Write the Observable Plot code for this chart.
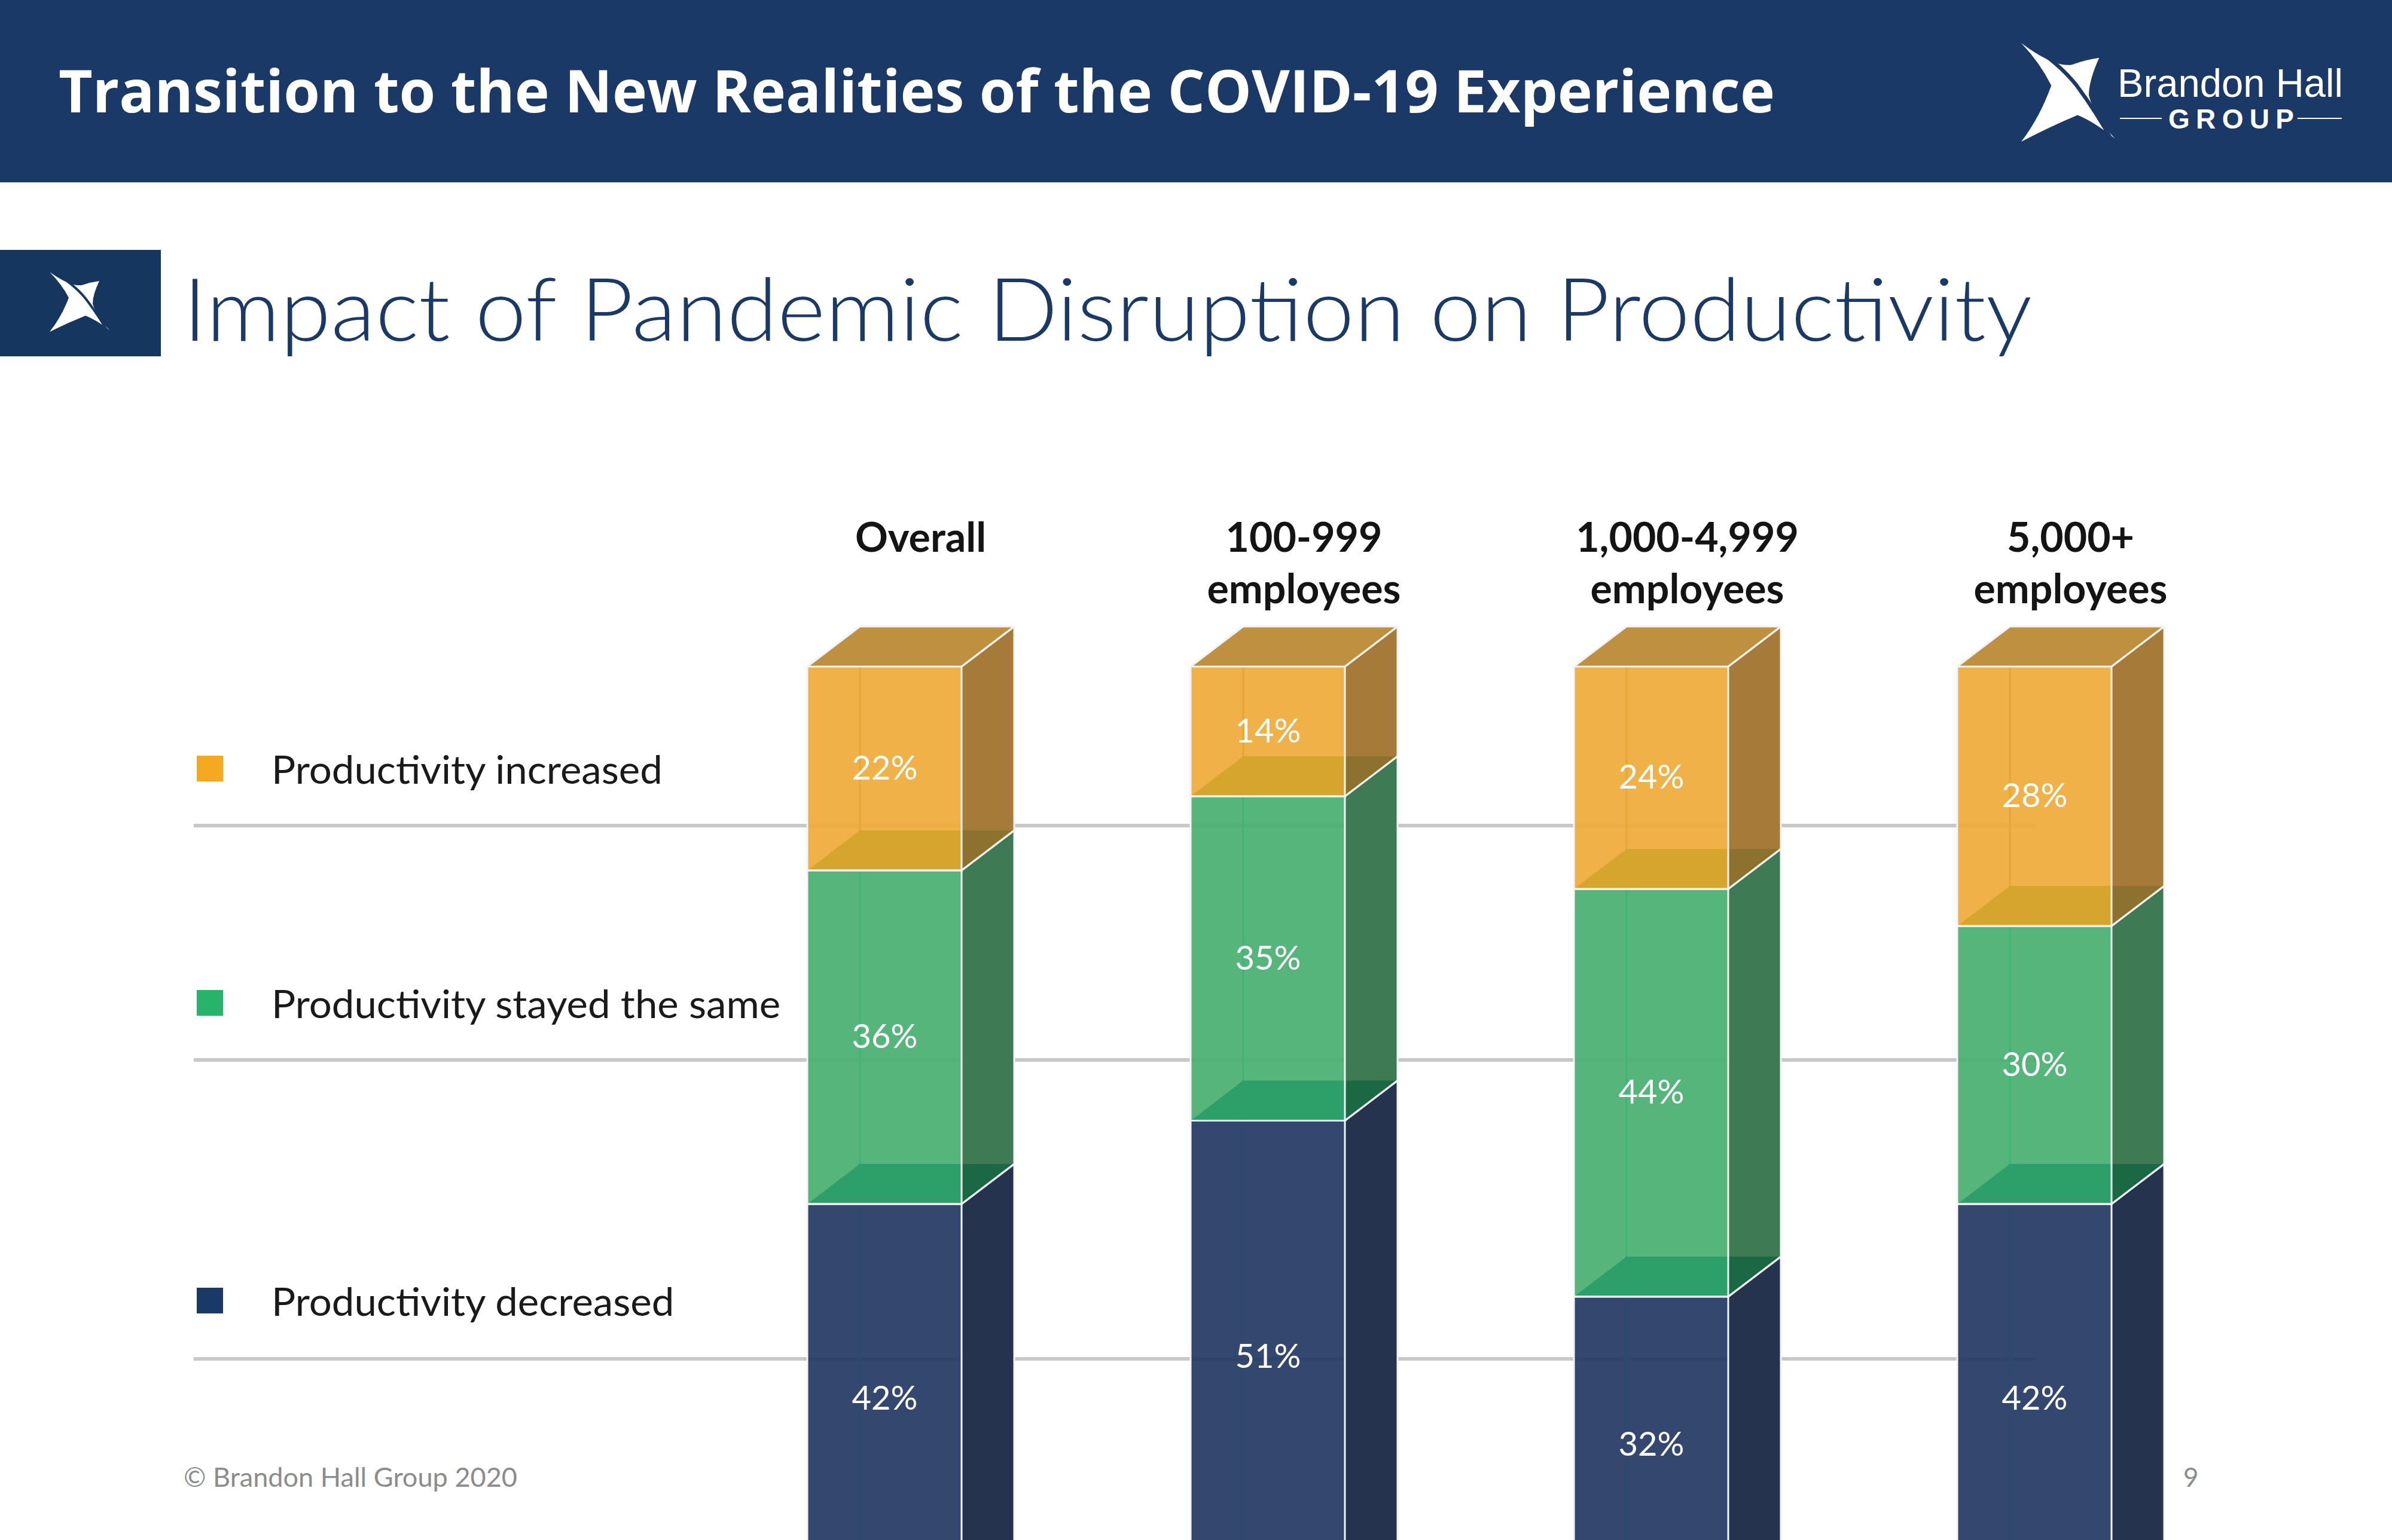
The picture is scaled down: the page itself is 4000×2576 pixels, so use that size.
<!DOCTYPE html>
<html>
<head>
<meta charset="utf-8">
<script src="https://cdn.jsdelivr.net/npm/d3@7"></script>
<script src="https://cdn.jsdelivr.net/npm/@observablehq/plot@0.6"></script>
<style>
  html, body { margin: 0; padding: 0; background: #fff; overflow: hidden; }
  #lamina { position: relative; width: 4000px; height: 2576px; overflow: hidden; background: #fff; }
  #fondo { position: absolute; left: 0; top: 0; }
  #grafico { position: absolute; left: 0; top: 800px; }
</style>
</head>
<body>
<div id="lamina">
  <svg id="fondo" width="4000" height="2576"></svg>
  <div id="grafico"></div>
</div>
<script>
// datos
const GRUPOS = ["Overall", "100-999\nemployees", "1,000-4,999\nemployees", "5,000+\nemployees"];
const SERIES = ["Productivity decreased", "Productivity stayed the same", "Productivity increased"];
const DISMINUYO = [42, 51, 32, 42];
const IGUAL     = [36, 35, 44, 30];
const AUMENTO   = [22, 14, 24, 28];

const COLORES = {
  "Productivity decreased":       { frente: "#253A64", lado: "#25334F", suelo: "#2A3F66", sueloLado: "#1E2A44", arista: "#2A4A6F", tapa: "#2B3A5C", leyenda: "#1B3966" },
  "Productivity stayed the same": { frente: "#49AF71", lado: "#3E7B54", suelo: "#2CA068", sueloLado: "#1B6845", arista: "#3DB573", tapa: "#2E8A57", leyenda: "#27B36A" },
  "Productivity increased":       { frente: "#EFAB3A", lado: "#A67B3A", suelo: "#D6A52E", sueloLado: "#8C722E", arista: "#E5A736", tapa: "#BF9040", leyenda: "#F5A920" },
};

const AZUL = "#1B3966";
const DX = 88, DY = 67; // profundidad de la caja en px

// tabla apilada
const valores = [DISMINUYO, IGUAL, AUMENTO];
const filas = [];
GRUPOS.forEach((g, i) => {
  let base = 0;
  SERIES.forEach((s, j) => {
    const v = valores[j][i];
    filas.push({ grupo: g, serie: s, valor: v, y1: base, y2: base + v, arriba: j === SERIES.length - 1 });
    base += v;
  });
});

// caras laterales, tapa y suelo de cada caja
function caja3d(datos) {
  return function (index, scales) {
    const x = scales.x, y = scales.y;
    const bw = x.bandwidth();
    const g = d3.create("svg:g").attr("aria-label", "caras 3d");
    const pts = (p) => p.map((q) => q.join(",")).join(" ");
    const pol = (p, fill) => g.append("polygon").attr("points", pts(p)).attr("fill", fill);
    for (const d of datos) {
      const c = COLORES[d.serie];
      const x0 = x(d.grupo), x1 = x0 + bw;
      const yt = y(d.y2), yb = y(d.y1);
      pol([[x1, yt], [x1 + DX, yt - DY], [x1 + DX, yb - DY], [x1, yb]], c.lado);
      g.append("line")
        .attr("x1", x0 + DX).attr("x2", x0 + DX)
        .attr("y1", yt - DY).attr("y2", yb - DY)
        .attr("stroke", c.arista).attr("stroke-width", 3);
      pol([[x0, yb], [x1, yb], [x1, yb - DY], [x0 + DX, yb - DY]], c.suelo);
      pol([[x1, yb - DY], [x1 + DX, yb - DY], [x1, yb]], c.sueloLado);
      if (d.arriba) pol([[x0, yt], [x1, yt], [x1 + DX, yt - DY], [x0 + DX, yt - DY]], c.tapa);
    }
    // aristas blancas
    for (const d of datos) {
      const x0 = x(d.grupo), x1 = x0 + bw;
      const yt = y(d.y2), yb = y(d.y1);
      g.append("polyline")
        .attr("points", pts([[x1, yt], [x1 + DX, yt - DY], [x1 + DX, yb - DY], [x1, yb]]))
        .attr("fill", "none").attr("stroke", "#F4F4F4").attr("stroke-width", 3).attr("stroke-linejoin", "round");
      if (d.arriba) {
        g.append("polyline")
          .attr("points", pts([[x0, yt], [x0 + DX, yt - DY], [x1 + DX, yt - DY], [x1, yt]]))
          .attr("fill", "none").attr("stroke", "#F2F2F2").attr("stroke-width", 3).attr("stroke-linejoin", "round");
      }
    }
    return g.node();
  };
}

const grafico = Plot.plot({
  width: 4000, height: 1865,
  marginLeft: 1349, marginRight: 469, marginTop: 315, marginBottom: 0,
  style: { background: "transparent", overflow: "visible", fontFamily: "Lato, 'Open Sans', sans-serif" },
  x: { domain: GRUPOS, paddingInner: 0.598, paddingOuter: 0, axis: null },
  y: { domain: [0, 100], axis: null },
  color: { domain: SERIES, range: SERIES.map((s) => COLORES[s].frente) },
  marks: [
    Plot.barY(filas, { x: "grupo", y1: "y1", y2: "y2", fill: "serie", fillOpacity: 0.93 }),
    caja3d(filas),
    Plot.barY(filas, { x: "grupo", y1: "y1", y2: "y2", fill: "none", stroke: "#F4F4F4", strokeWidth: 3 }),
    Plot.text(filas, {
      x: "grupo", y: (d) => (d.y1 + d.y2) / 2, text: (d) => d.valor + "%",
      fill: "white", fontSize: 56,
    }),
    Plot.text(GRUPOS, {
      x: (d) => d, text: (d) => d, frameAnchor: "top", lineAnchor: "top",
      dy: -254, dx: 60, fontSize: 68, fontWeight: 700, fill: "#141414", lineHeight: 1.27,
    }),
  ],
});
document.getElementById("grafico").appendChild(grafico);

// lámina: cabecera, título, leyenda, pie
const fondo = d3.select("#fondo");
const ESTRELLA = "M0,0 Q35,25 54,22 Q68,17 83,15 Q72,38 72,53 Q78,75 100,97 Q78,80 60,73 Q30,85 0,100 Q20,75 32,43 Q20,20 0,0 Z";
function estrella(x, y, w, h, colorFondo) {
  const s = fondo.append("svg")
    .attr("x", x).attr("y", y).attr("width", w).attr("height", h)
    .attr("viewBox", "0 0 100 100").attr("preserveAspectRatio", "none").attr("overflow", "visible");
  s.append("path").attr("d", ESTRELLA).attr("fill", "white");
  s.append("path").attr("d", "M4,-2 Q40,20 59,43 Q80,70 98,101")
    .attr("fill", "none").attr("stroke", colorFondo).attr("stroke-width", 4);
}

fondo.append("rect").attr("width", 4000).attr("height", 305).attr("fill", AZUL);
fondo.append("text")
  .attr("x", 98).attr("y", 188)
  .attr("font-family", "'Open Sans', Lato, sans-serif").attr("font-weight", 700).attr("font-size", 98)
  .attr("fill", "white").attr("textLength", 2870).attr("lengthAdjust", "spacingAndGlyphs")
  .text("Transition to the New Realities of the COVID-19 Experience");

estrella(3380, 72, 157, 165, AZUL);
fondo.append("text")
  .attr("x", 3541).attr("y", 162)
  .attr("font-family", "'Liberation Sans', Arial, sans-serif").attr("font-size", 66)
  .attr("fill", "white").attr("textLength", 377).attr("lengthAdjust", "spacingAndGlyphs")
  .text("Brandon Hall");
fondo.append("text")
  .attr("x", 3626).attr("y", 215)
  .attr("font-family", "'Liberation Sans', Arial, sans-serif").attr("font-weight", 700).attr("font-size", 46)
  .attr("fill", "white").attr("textLength", 210).attr("lengthAdjust", "spacing")
  .text("GROUP");
fondo.append("line").attr("x1", 3545).attr("x2", 3615).attr("y1", 198).attr("y2", 198).attr("stroke", "white").attr("stroke-width", 2);
fondo.append("line").attr("x1", 3842).attr("x2", 3916).attr("y1", 198).attr("y2", 198).attr("stroke", "white").attr("stroke-width", 2);

fondo.append("rect").attr("x", 0).attr("y", 418).attr("width", 269).attr("height", 178).attr("fill", "#15365F");
estrella(83, 455, 100, 100, "#15365F");
fondo.append("text")
  .attr("x", 306).attr("y", 570)
  .attr("font-family", "Lato, 'Open Sans', sans-serif").attr("font-weight", 300).attr("font-size", 146)
  .attr("fill", AZUL).attr("textLength", 3092).attr("lengthAdjust", "spacingAndGlyphs")
  .text("Impact of Pandemic Disruption on Productivity");

// reglas grises y leyenda
const LEYENDA_BASE = [1311, 1703, 2201];
const REGLAS_Y = [1381, 1773, 2273];
REGLAS_Y.forEach((yy) => {
  fondo.append("rect").attr("x", 324).attr("y", yy - 3).attr("width", 3081).attr("height", 6).attr("fill", "#C8C8C8");
});
const leyenda = SERIES.slice().reverse();
const textos = [];
leyenda.forEach((s, i) => {
  fondo.append("rect")
    .attr("x", 329).attr("y", LEYENDA_BASE[i] - 47).attr("width", 44).attr("height", 43)
    .attr("fill", COLORES[s].leyenda);
  const gT = fondo.append("g").attr("transform", `translate(454,${LEYENDA_BASE[i]})`);
  textos.push(gT.append("text")
    .attr("font-family", "Lato, 'Open Sans', sans-serif").attr("font-size", 66)
    .attr("fill", "#1A1A1A").text(s));
});
const ancho0 = textos[0].node().getComputedTextLength();
const k = ancho0 > 0 ? 654 / ancho0 : 1;
textos.forEach((t) => t.attr("transform", `scale(${k},1)`));

fondo.append("text")
  .attr("x", 307).attr("y", 2487)
  .attr("font-family", "Lato, 'Open Sans', sans-serif").attr("font-size", 44)
  .attr("fill", "#8C8C8C").attr("textLength", 558).attr("lengthAdjust", "spacingAndGlyphs")
  .text("© Brandon Hall Group 2020");
fondo.append("text")
  .attr("x", 3651).attr("y", 2487)
  .attr("font-family", "Lato, 'Open Sans', sans-serif").attr("font-size", 44)
  .attr("fill", "#8C8C8C").text("9");
</script>
</body>
</html>
